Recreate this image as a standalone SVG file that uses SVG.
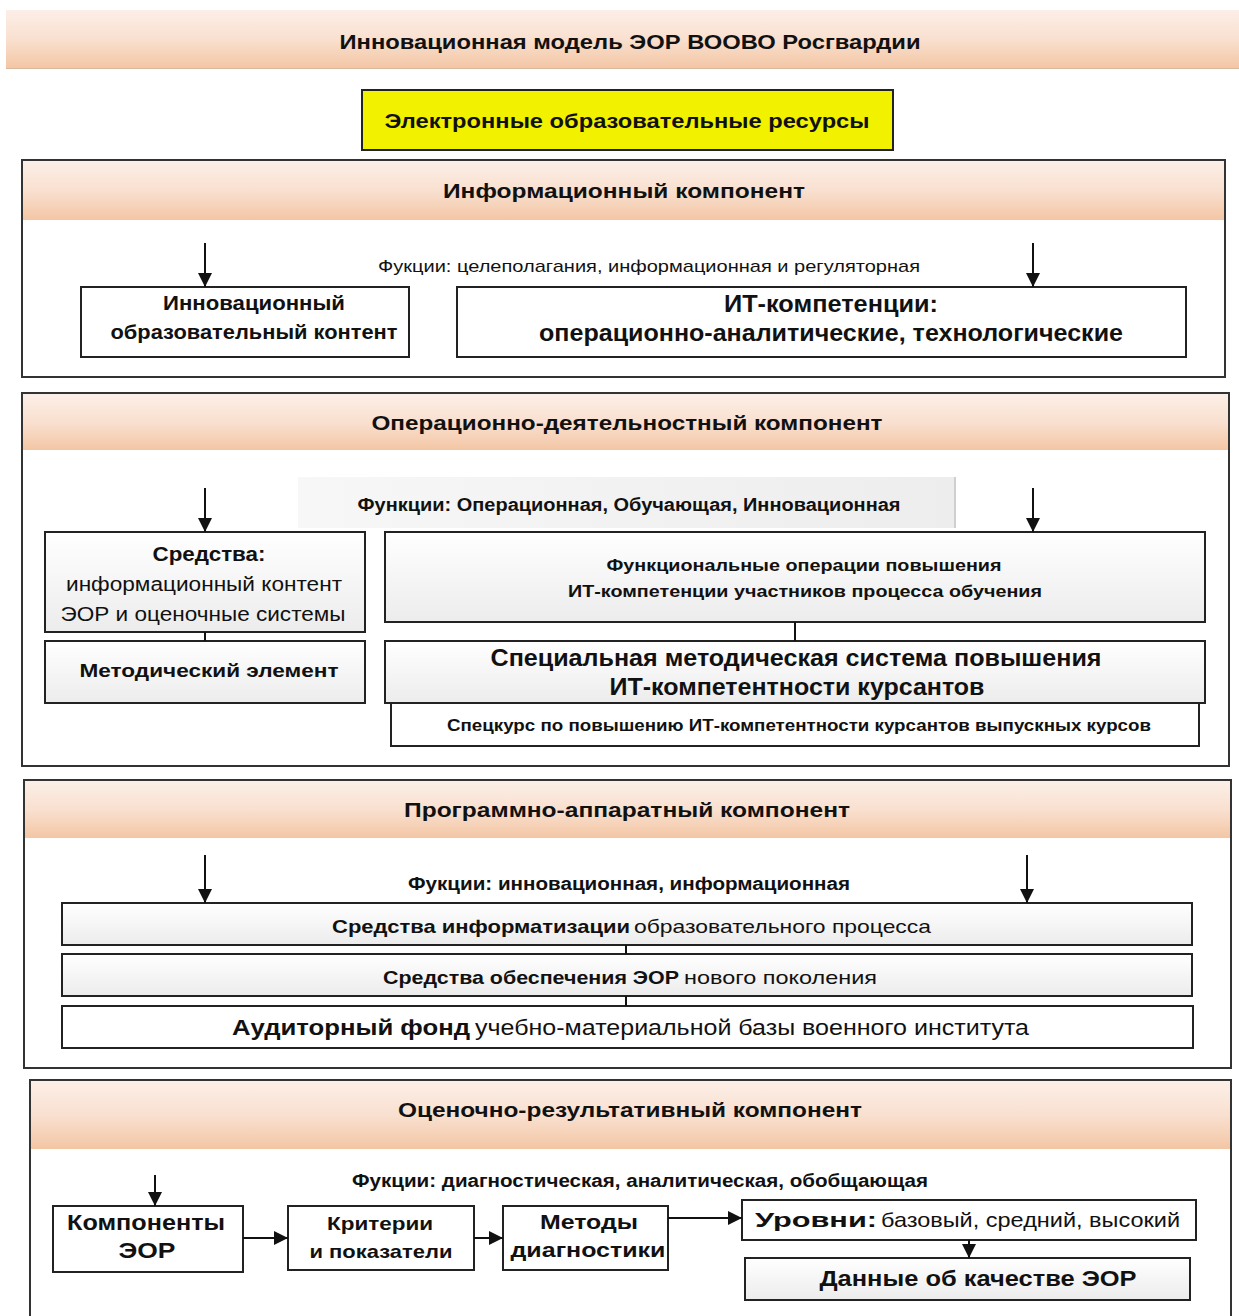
<svg xmlns="http://www.w3.org/2000/svg" width="1239" height="1316" viewBox="0 0 1239 1316">
<defs>
<linearGradient id="peach" x1="0" y1="0" x2="0" y2="1">
<stop offset="0" stop-color="#fcefe7"/>
<stop offset="0.5" stop-color="#f9e0d0"/>
<stop offset="1" stop-color="#f3c6a4"/>
</linearGradient>
<linearGradient id="grey" x1="0" y1="0" x2="0" y2="1">
<stop offset="0" stop-color="#ffffff"/>
<stop offset="1" stop-color="#ececec"/>
</linearGradient>
<linearGradient id="band" x1="0" y1="0" x2="1" y2="0">
<stop offset="0" stop-color="#f7f7f7"/>
<stop offset="1" stop-color="#ededed"/>
</linearGradient>
<marker id="ah2" viewBox="0 0 10 10" refX="10" refY="5" markerWidth="7" markerHeight="7" orient="auto" markerUnits="strokeWidth">
<path d="M0,0 L10,5 L0,10 z" fill="#111"/>
</marker>
</defs>
<style>
text{font-family:"Liberation Sans",Arial,sans-serif;fill:#111;}
.b{font-weight:700;}
.n{font-weight:400;}
.m{text-anchor:middle;}
.outer{fill:#fff;stroke:#333;stroke-width:2;}
.hdr{fill:url(#peach);}
.box{fill:#fff;stroke:#222;stroke-width:2;}
.gbox{fill:url(#grey);stroke:#222;stroke-width:2;}
.ln{stroke:#111;stroke-width:2;fill:none;}
.arr{stroke:#111;stroke-width:2;fill:none;marker-end:url(#ah2);}
</style>
<rect width="1239" height="1316" fill="#fff"/>

<g id="title">
<rect x="6" y="10" width="1233" height="58" fill="url(#peach)"/>
<line x1="6" y1="68.5" x2="1239" y2="68.5" stroke="#d9b8a0" stroke-width="1"/>
<text class="b m" x="630" y="49" font-size="20" textLength="581" lengthAdjust="spacingAndGlyphs">Инновационная модель ЭОР ВООВО Росгвардии</text>
</g>

<g id="eor">
<rect x="362" y="90" width="531" height="60" fill="#f2f200" stroke="#222" stroke-width="2"/>
<text class="b m" x="627" y="128" font-size="20" textLength="485" lengthAdjust="spacingAndGlyphs">Электронные образовательные ресурсы</text>
</g>

<g id="info">
<rect class="outer" x="22" y="160" width="1203" height="217"/>
<rect class="hdr" x="23" y="161" width="1201" height="59"/>
<text class="b m" x="624" y="198" font-size="20" textLength="362" lengthAdjust="spacingAndGlyphs">Информационный компонент</text>
<text class="n m" x="649" y="272" font-size="17" textLength="542" lengthAdjust="spacingAndGlyphs">Фукции: целеполагания, информационная и регуляторная</text>
<g id="info-content">
<rect class="box" x="81" y="287" width="328" height="70"/>
<text class="b m" x="254" y="310" font-size="20" textLength="182" lengthAdjust="spacingAndGlyphs">Инновационный</text>
<text class="b m" x="254" y="339" font-size="20" textLength="287" lengthAdjust="spacingAndGlyphs">образовательный контент</text>
</g>
<g id="info-it">
<rect class="box" x="457" y="287" width="729" height="70"/>
<text class="b m" x="831" y="312" font-size="23" textLength="214" lengthAdjust="spacingAndGlyphs">ИТ-компетенции:</text>
<text class="b m" x="831" y="341" font-size="23" textLength="584" lengthAdjust="spacingAndGlyphs">операционно-аналитические, технологические</text>
</g>
</g>

<g id="oper">
<rect class="outer" x="22" y="393" width="1207" height="373"/>
<rect class="hdr" x="23" y="394" width="1205" height="56"/>
<text class="b m" x="627" y="430" font-size="20" textLength="511" lengthAdjust="spacingAndGlyphs">Операционно-деятельностный компонент</text>
<rect x="298" y="477" width="657" height="51" fill="url(#band)"/>
<line x1="955" y1="477" x2="955" y2="528" stroke="#cfcfcf" stroke-width="2"/>
<text class="b m" x="629" y="511" font-size="18" textLength="543" lengthAdjust="spacingAndGlyphs">Функции: Операционная, Обучающая, Инновационная</text>
<g id="oper-sredstva">
<rect class="gbox" x="45" y="532" width="320" height="100"/>
<text class="b m" x="209" y="561" font-size="20" textLength="113" lengthAdjust="spacingAndGlyphs">Средства:</text>
<text class="n m" x="204" y="591" font-size="20" textLength="276" lengthAdjust="spacingAndGlyphs">информационный контент</text>
<text class="n m" x="203" y="621" font-size="20" textLength="285" lengthAdjust="spacingAndGlyphs">ЭОР и оценочные системы</text>
</g>
<g id="oper-metod">
<rect class="gbox" x="45" y="641" width="320" height="62"/>
<text class="b m" x="209" y="677" font-size="19" textLength="259" lengthAdjust="spacingAndGlyphs">Методический элемент</text>
</g>
<g id="oper-func">
<rect class="gbox" x="385" y="532" width="820" height="90"/>
<text class="b m" x="804" y="571" font-size="17" textLength="395" lengthAdjust="spacingAndGlyphs">Функциональные операции повышения</text>
<text class="b m" x="805" y="597" font-size="17" textLength="474" lengthAdjust="spacingAndGlyphs">ИТ-компетенции участников процесса обучения</text>
</g>
<g id="oper-spec">
<rect class="gbox" x="385" y="641" width="820" height="62"/>
<text class="b m" x="796" y="666" font-size="23" textLength="611" lengthAdjust="spacingAndGlyphs">Специальная методическая система повышения</text>
<text class="b m" x="797" y="695" font-size="23" textLength="375" lengthAdjust="spacingAndGlyphs">ИТ-компетентности курсантов</text>
</g>
<g id="oper-kurs">
<rect class="box" x="391" y="703" width="808" height="43"/>
<text class="b m" x="799" y="731" font-size="17" textLength="704" lengthAdjust="spacingAndGlyphs">Спецкурс по повышению ИТ-компетентности  курсантов выпускных курсов</text>
</g>
</g>

<g id="prog">
<rect class="outer" x="24" y="780" width="1207" height="288"/>
<rect class="hdr" x="25" y="781" width="1205" height="57"/>
<text class="b m" x="627" y="817" font-size="20" textLength="446" lengthAdjust="spacingAndGlyphs">Программно-аппаратный компонент</text>
<text class="b m" x="629" y="890" font-size="18" textLength="442" lengthAdjust="spacingAndGlyphs">Фукции: инновационная, информационная</text>
<g id="prog-1">
<rect class="gbox" x="62" y="903" width="1130" height="42"/>
<text class="b" x="332" y="933" font-size="19" textLength="298" lengthAdjust="spacingAndGlyphs">Средства информатизации</text>
<text class="n" x="634" y="933" font-size="19" textLength="297" lengthAdjust="spacingAndGlyphs">образовательного процесса</text>
</g>
<g id="prog-2">
<rect class="gbox" x="62" y="954" width="1130" height="42"/>
<text class="b" x="383" y="984" font-size="19" textLength="296" lengthAdjust="spacingAndGlyphs">Средства обеспечения ЭОР</text>
<text class="n" x="684" y="984" font-size="19" textLength="193" lengthAdjust="spacingAndGlyphs">нового поколения</text>
</g>
<g id="prog-3">
<rect class="box" x="62" y="1006" width="1131" height="42"/>
<text class="b" x="232" y="1035" font-size="22" textLength="238" lengthAdjust="spacingAndGlyphs">Аудиторный фонд</text>
<text class="n" x="475" y="1035" font-size="22" textLength="554" lengthAdjust="spacingAndGlyphs">учебно-материальной базы военного института</text>
</g>
</g>

<g id="eval">
<rect class="outer" x="30" y="1080" width="1201" height="250"/>
<rect class="hdr" x="31" y="1081" width="1199" height="68"/>
<text class="b m" x="630" y="1117" font-size="20" textLength="464" lengthAdjust="spacingAndGlyphs">Оценочно-результативный компонент</text>
<text class="b m" x="640" y="1187" font-size="18" textLength="576" lengthAdjust="spacingAndGlyphs">Фукции: диагностическая, аналитическая, обобщающая</text>
<g id="eval-komp">
<rect class="box" x="53" y="1206" width="190" height="66"/>
<text class="b m" x="146" y="1230" font-size="22" textLength="158" lengthAdjust="spacingAndGlyphs">Компоненты</text>
<text class="b m" x="147" y="1258" font-size="22" textLength="57" lengthAdjust="spacingAndGlyphs">ЭОР</text>
</g>
<g id="eval-krit">
<rect class="box" x="288" y="1206" width="186" height="64"/>
<text class="b m" x="380" y="1230" font-size="19" textLength="106" lengthAdjust="spacingAndGlyphs">Критерии</text>
<text class="b m" x="381" y="1258" font-size="19" textLength="143" lengthAdjust="spacingAndGlyphs">и показатели</text>
</g>
<g id="eval-metod">
<rect class="box" x="503" y="1206" width="165" height="64"/>
<text class="b m" x="589" y="1229" font-size="21" textLength="98" lengthAdjust="spacingAndGlyphs">Методы</text>
<text class="b m" x="588" y="1257" font-size="21" textLength="155" lengthAdjust="spacingAndGlyphs">диагностики</text>
</g>
<g id="eval-urov">
<rect class="box" x="742" y="1200" width="454" height="40"/>
<text class="b" x="755" y="1227" font-size="21" textLength="122" lengthAdjust="spacingAndGlyphs">Уровни:</text>
<text class="n" x="881" y="1227" font-size="21" textLength="299" lengthAdjust="spacingAndGlyphs">базовый, средний, высокий</text>
</g>
<g id="eval-data">
<rect class="gbox" x="745" y="1258" width="445" height="42"/>
<text class="b m" x="978" y="1286" font-size="22" textLength="317" lengthAdjust="spacingAndGlyphs">Данные об качестве ЭОР</text>
</g>
</g>

<g id="connectors">
<line class="arr" x1="205" y1="243" x2="205" y2="287"/>
<line class="arr" x1="1033" y1="243" x2="1033" y2="287"/>
<line class="arr" x1="205" y1="488" x2="205" y2="532"/>
<line class="arr" x1="1033" y1="488" x2="1033" y2="532"/>
<line class="ln" x1="205" y1="632" x2="205" y2="641"/>
<line class="ln" x1="795" y1="622" x2="795" y2="641"/>
<line class="arr" x1="205" y1="855" x2="205" y2="903"/>
<line class="arr" x1="1027" y1="855" x2="1027" y2="903"/>
<line class="ln" x1="626" y1="945" x2="626" y2="954"/>
<line class="ln" x1="626" y1="996" x2="626" y2="1006"/>
<line class="arr" x1="155" y1="1175" x2="155" y2="1206"/>
<line class="arr" x1="243" y1="1238" x2="288" y2="1238"/>
<line class="arr" x1="474" y1="1238" x2="503" y2="1238"/>
<line class="arr" x1="668" y1="1218" x2="742" y2="1218"/>
<line class="arr" x1="969" y1="1240" x2="969" y2="1258"/>
</g>
</svg>
